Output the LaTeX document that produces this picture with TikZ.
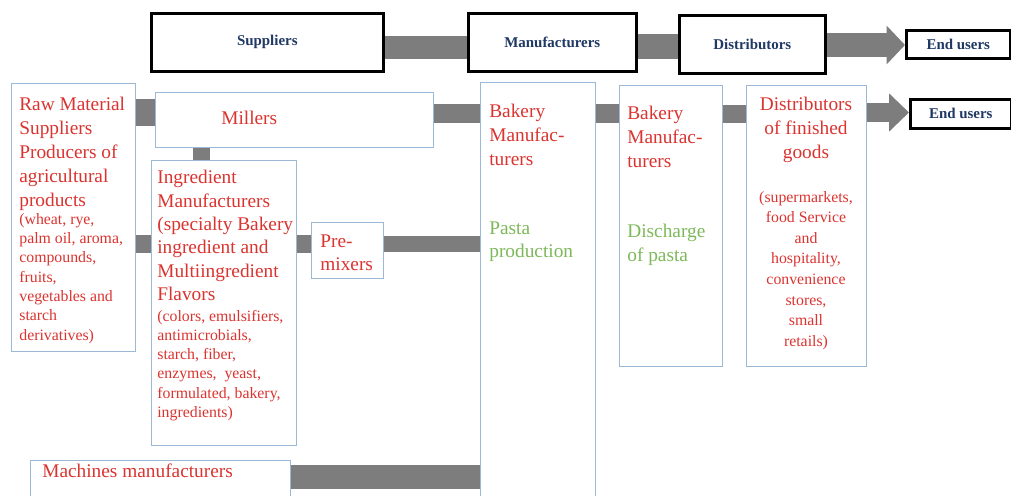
\documentclass[tikz,border=0pt]{standalone}
\usepackage{fontspec}
\setmainfont{Liberation Serif}
\usetikzlibrary{arrows.meta, positioning, calc}
\definecolor{InkNavy}{RGB}{31,56,100}
\definecolor{BrickRed}{RGB}{218,52,48}
\definecolor{LeafGreen}{RGB}{125,185,90}
\definecolor{FrameBlue}{RGB}{155,185,215}
\definecolor{BarGray}{RGB}{125,125,125}

\begin{document}
\begin{tikzpicture}[
    x=0.02cm, y=-0.02cm,
    stage/.style={draw=black, line width=1.5pt, fill=white, text=InkNavy, font=\fontsize{8.5}{10}\selectfont\bfseries, anchor=north west, inner sep=0pt},
    panel/.style={draw=FrameBlue, line width=0.8pt, fill=white, anchor=north west, inner sep=0pt},
    big/.style={text=BrickRed, font=\fontsize{11}{13.6}\selectfont, align=left, anchor=north west, inner sep=0pt},
    note/.style={text=BrickRed, font=\fontsize{9}{11}\selectfont, align=left, anchor=north west, inner sep=0pt},
    pasta/.style={big, text=LeafGreen},
    bar/.style={draw=BarGray, line cap=butt},
    flow/.style={draw=BarGray, line cap=butt, -{Triangle[length=10.5pt, width=21.5pt]}}
]
    \useasboundingbox (0,0) rectangle (1011,496);

    % top row: chain stages
    \node[stage, minimum width=4.64cm, minimum height=1.16cm] (sup) at (150,12) {Suppliers};
    \node[stage, minimum width=3.36cm, minimum height=1.16cm] (man) at (467,12) {Manufacturers};
    \node[stage, minimum width=2.92cm, minimum height=1.16cm] (dis) at (678,14) {Distributors};
    \node[stage, minimum width=2.08cm, minimum height=0.56cm] (end) at (905,29) {End users};

    % panels
    \node[panel, minimum width=2.48cm, minimum height=5.36cm] (raw) at (11,83) {};
    \node[panel, minimum width=5.56cm, minimum height=1.10cm] (mil) at (155,92) {};
    \node[panel, minimum width=2.90cm, minimum height=5.70cm] (ing) at (151,160) {};
    \node[panel, minimum width=1.44cm, minimum height=1.12cm] (pre) at (311,222) {};
    \node[panel, minimum width=2.30cm, minimum height=8.30cm] (bak) at (480,82) {};
    \node[panel, minimum width=2.06cm, minimum height=5.62cm] (bak2) at (619,85) {};
    \node[panel, minimum width=2.40cm, minimum height=5.62cm] (fin) at (746,85) {};
    \node[panel, minimum width=5.20cm, minimum height=0.76cm] (mac) at (30,460) {};
    \node[stage, minimum width=2.02cm, minimum height=0.58cm] (end2) at (909,98) {End users};

    % panel texts
    \node[big] (rawtxt) at (19,97) {Raw Material\\Suppliers\\Producers of\\agricultural\\products};
    \node[note] (rawnote) at (19,213) {(wheat, rye,\\palm oil, aroma,\\compounds,\\fruits,\\vegetables and\\starch\\derivatives)};
    \node[big] (miltxt) at (221,111) {Millers};
    \node[big, font=\fontsize{11}{13.3}\selectfont] (ingtxt) at (157,170) {Ingredient\\Manufacturers\\(specialty Bakery\\ingredient and\\Multiingredient\\Flavors};
    \node[note, font=\fontsize{9}{10.9}\selectfont] (ingnote) at (157,310) {(colors, emulsifiers,\\antimicrobials,\\starch, fiber,\\enzymes,\ \ yeast,\\formulated, bakery,\\ingredients)};
    \node[big] (pretxt) at (320,234) {Pre-\\mixers};
    \node[big] (baktxt) at (489,104) {Bakery\\Manufac-\\turers};
    \node[pasta] (pastxt) at (489,221) {Pasta\\production};
    \node[big] (bak2txt) at (627,106) {Bakery\\Manufac-\\turers};
    \node[pasta] (distxt) at (627,224) {Discharge\\of pasta};
    \node[big, align=center, anchor=north] (fintxt) at (806,97) {Distributors\\of finished\\goods};
    \node[note, align=center, anchor=north, font=\fontsize{9}{11.7}\selectfont] (finnote) at (806,191) {(supermarkets,\\food Service\\and\\hospitality,\\convenience\\stores,\\small\\retails)};
    \node[big] (mactxt) at (42,464) {Machines manufacturers};

    % connectors
    \draw[bar, line width=13pt] (sup.east |- 0,47.5) -- (man.west |- 0,47.5);
    \draw[bar, line width=14pt] (man.east |- 0,46.5) -- (dis.west |- 0,46.5);
    \draw[flow, line width=13.6pt] (dis.east |- 0,45) -- (end.west |- 0,45);
    \draw[bar, line width=15.3pt] (raw.east |- 0,112.5) -- (mil.west |- 0,112.5);
    \draw[bar, line width=9.6pt] (201.5,0 |- mil.south) -- (201.5,0 |- ing.north);
    \draw[bar, line width=10.2pt] (raw.east |- 0,244) -- (ing.west |- 0,244);
    \draw[bar, line width=10.2pt] (ing.east |- 0,244) -- (pre.west |- 0,244);
    \draw[bar, line width=9.1pt] (pre.east |- 0,244) -- (bak.west |- 0,244);
    \draw[bar, line width=10.8pt] (mil.east |- 0,113.5) -- (bak.west |- 0,113.5);
    \draw[bar, line width=10.8pt] (bak.east |- 0,113.5) -- (bak2.west |- 0,113.5);
    \draw[bar, line width=10.2pt] (bak2.east |- 0,114) -- (fin.west |- 0,114);
    \draw[flow, line width=10.8pt, -{Triangle[length=11.3pt, width=21pt]}] (fin.east |- 0,112.5) -- (end2.west |- 0,112.5);
    \draw[bar, line width=13.6pt] (mac.east |- 0,477) -- (bak.west |- 0,477);
\end{tikzpicture}
\end{document}
